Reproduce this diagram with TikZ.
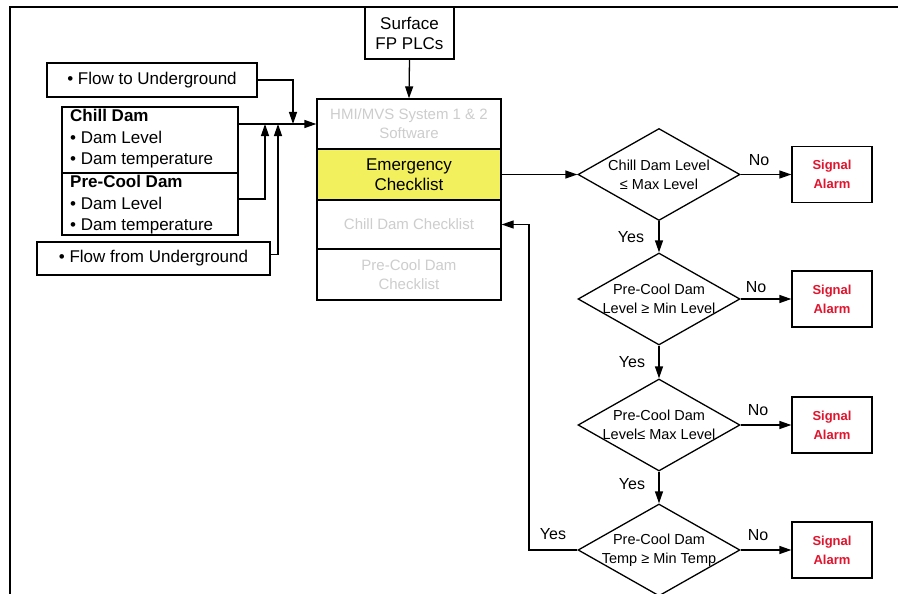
\documentclass[tikz,border=0pt]{standalone}
\usepackage{fontspec}
\setmainfont{Liberation Sans}
\usetikzlibrary{shapes.geometric,arrows.meta}
\definecolor{chkyellow}{RGB}{242,240,92}
\definecolor{alarmred}{RGB}{225,20,45}
\definecolor{faded}{RGB}{205,205,205}
\begin{document}
\begin{tikzpicture}[x=1pt,y=-1pt,
  every node/.style={font=\fontsize{17}{20}\selectfont, inner sep=0pt},
  box/.style={draw, line width=1.3pt, rectangle},
  chk/.style={box, minimum width=184pt, align=center},
  dim/.style={text=faded, font=\fontsize{15}{19}\selectfont},
  dec/.style={draw, line width=1.3pt, diamond, minimum width=162pt, minimum height=92pt},
  dectext/.style={align=center, font=\fontsize{14.5}{19}\selectfont},
  alarm/.style={box, minimum width=80pt, minimum height=56pt, align=center,
                text=alarmred, font=\bfseries\fontsize{13}{19}\selectfont},
  arr/.style={line width=1.3pt, -{Triangle[length=12pt,width=8pt]}},
  lbl/.style={font=\fontsize{16}{18}\selectfont},
  srctext/.style={align=left, anchor=north west, font=\fontsize{17}{21.5}\selectfont},
]
\useasboundingbox (0,0) rectangle (898,594);
\fill[white] (0,0) rectangle (898,594);

% outer frame
\draw[line width=2pt] (898,7) -- (10,7) -- (10,594);

% surface PLCs
\node[box, fill=white, minimum width=89pt, minimum height=52pt, align=center]
  (surf) at (409.5,33) {Surface\\FP PLCs};

% checklist stack
\node[chk, dim, minimum height=50pt] (ck1) at (409,124) {HMI/MVS System 1 \& 2\\Software};
\node[chk, fill=chkyellow, minimum height=51pt] (ck2) at (409,174.5) {Emergency\\Checklist};
\node[chk, dim, minimum height=49pt] (ck3) at (409,224.5) {Chill Dam Checklist};
\node[chk, dim, minimum height=51pt] (ck4) at (409,274.5) {Pre-Cool Dam\\Checklist};

% input sources
\node[box, minimum width=210pt, minimum height=34pt] (flowto) at (152,80)
  {\textbullet\ Flow to Underground};
\node[box, minimum width=176pt, minimum height=66pt] (chill) at (150,140) {};
\node[box, minimum width=176pt, minimum height=62pt] (precool) at (150,204) {};
\node[srctext] (chilltxt) at (70,109)
  {\textbf{Chill Dam}\\\textbullet\ Dam Level\\\textbullet\ Dam temperature};
\node[srctext] (precooltxt) at (70,175)
  {\textbf{Pre-Cool Dam}\\\textbullet\ Dam Level\\\textbullet\ Dam temperature};
\node[box, minimum width=233pt, minimum height=33pt] (flowfrom) at (153.5,258.5)
  {\textbullet\ Flow from Underground};

% junctions on the input line
\coordinate (j1) at (293,124);
\coordinate (j2) at (265,124);
\coordinate (j3) at (278,124);

\draw[arr] (surf.south) -- (ck1.north);
\draw[arr] (chill.east |- ck1.west) -- (ck1.west);
\draw[arr] (flowto.east) -| (j1);
\draw[arr] ([yshift=5pt]precool.east) -| (j2);
\draw[arr] ([yshift=4pt]flowfrom.east) -| (j3);

% decisions
\node[dec] (d1) at (659,174.5) {};
\node[dec] (d2) at (659,299) {};
\node[dec] (d3) at (659,425) {};
\node[dec] (d4) at (659,550) {};
\node[dectext] (d1t) at (d1) {Chill Dam Level\\≤ Max Level};
\node[dectext] (d2t) at (d2) {Pre-Cool Dam\\Level ≥ Min Level};
\node[dectext] (d3t) at (d3) {Pre-Cool Dam\\Level≤ Max Level};
\node[dectext] (d4t) at (d4) {Pre-Cool Dam\\Temp ≥ Min Temp};

% alarms
\node[alarm] (s1) at (832,174.5) {Signal\\Alarm};
\node[alarm] (s2) at (832,299) {Signal\\Alarm};
\node[alarm] (s3) at (832,425) {Signal\\Alarm};
\node[alarm] (s4) at (832,550) {Signal\\Alarm};

% flow
\draw[arr] (ck2.east) -- (d1.west);
\draw[arr] (d1.south) -- (d2.north);
\draw[arr] (d2.south) -- (d3.north);
\draw[arr] (d3.south) -- (d4.north);
\draw[arr] (d1.east) -- (s1.west);
\draw[arr] (d2.east) -- (s2.west);
\draw[arr] (d3.east) -- (s3.west);
\draw[arr] (d4.east) -- (s4.west);
\coordinate (ret) at (529,550);
\draw[arr] (d4.west) -- (ret) |- (ck3.east);

% branch labels
\node[lbl] (n1) at (759,160) {No};
\node[lbl] (n2) at (756,287) {No};
\node[lbl] (n3) at (758,410) {No};
\node[lbl] (n4) at (758,535) {No};
\node[lbl] (y1) at (631,237) {Yes};
\node[lbl] (y2) at (632,362) {Yes};
\node[lbl] (y3) at (632,484) {Yes};
\node[lbl] (y4) at (553,534) {Yes};
\end{tikzpicture}
\end{document}
